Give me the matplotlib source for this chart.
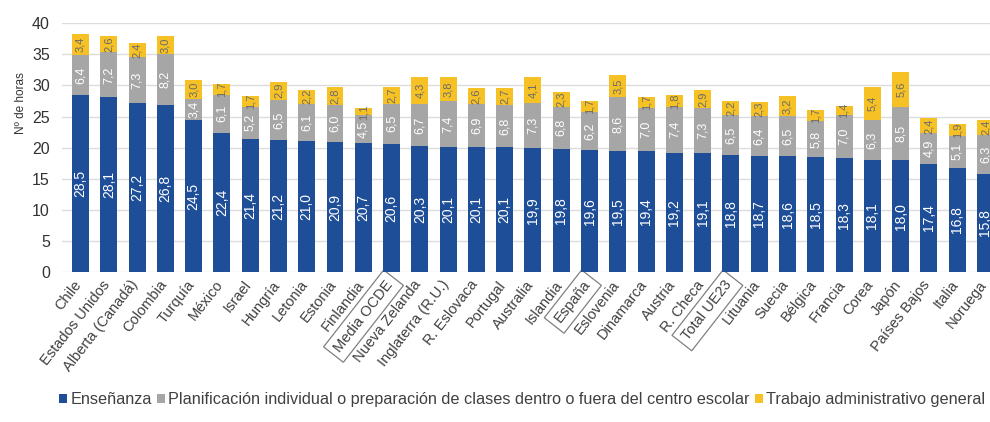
import matplotlib
matplotlib.use("Agg")
import matplotlib.pyplot as plt
import matplotlib.transforms as mtransforms
import numpy as np

plt.rcParams["font.family"] = ["Liberation Sans", "DejaVu Sans"]

paises = ["Chile", "Estados Unidos", "Alberta (Canadá)", "Colombia", "Turquía",
          "México", "Israel", "Hungría", "Letonia", "Estonia", "Finlandia",
          "Media OCDE", "Nueva Zelanda", "Inglaterra (R.U.)", "R. Eslovaca",
          "Portugal", "Australia", "Islandia", "España", "Eslovenia",
          "Dinamarca", "Austria", "R. Checa", "Total UE23", "Lituania",
          "Suecia", "Bélgica", "Francia", "Corea", "Japón", "Países Bajos",
          "Italia", "Noruega"]
ensenanza = [28.5, 28.1, 27.2, 26.8, 24.5, 22.4, 21.4, 21.2, 21.0, 20.9, 20.7,
             20.6, 20.3, 20.1, 20.1, 20.1, 19.9, 19.8, 19.6, 19.5, 19.4, 19.2,
             19.1, 18.8, 18.7, 18.6, 18.5, 18.3, 18.1, 18.0, 17.4, 16.8, 15.8]
planificacion = [6.4, 7.2, 7.3, 8.2, 3.4, 6.1, 5.2, 6.5, 6.1, 6.0, 4.5,
                 6.5, 6.7, 7.4, 6.9, 6.8, 7.3, 6.8, 6.2, 8.6, 7.0, 7.4,
                 7.3, 6.5, 6.4, 6.5, 5.8, 7.0, 6.3, 8.5, 4.9, 5.1, 6.3]
administrativo = [3.4, 2.6, 2.4, 3.0, 3.0, 1.7, 1.7, 2.9, 2.2, 2.8, 1.1,
                  2.7, 4.3, 3.8, 2.6, 2.7, 4.1, 2.3, 1.7, 3.5, 1.7, 1.8,
                  2.9, 2.2, 2.3, 3.2, 1.7, 1.4, 5.4, 5.6, 2.4, 1.9, 2.4]
destacados = ["Media OCDE", "España", "Total UE23"]

c_azul = "#1F4E99"
c_gris = "#A6A6A6"
c_amar = "#F5C125"

fig = plt.figure(figsize=(9.9, 4.22), dpi=100)
ax = fig.add_axes([0.063, 0.355, 0.937, 0.59])

x = np.arange(len(paises))
ens = np.array(ensenanza)
pla = np.array(planificacion)
adm = np.array(administrativo)
w = 0.6

b1 = ax.bar(x, ens, w, color=c_azul, label="Enseñanza", zorder=3)
b2 = ax.bar(x, pla, w, bottom=ens, color=c_gris,
            label="Planificación individual o preparación de clases dentro o fuera del centro escolar", zorder=3)
b3 = ax.bar(x, adm, w, bottom=ens + pla, color=c_amar,
            label="Trabajo administrativo general", zorder=3)

def fmt(v):
    return f"{v:.1f}".replace(".", ",")

# etiquetas de valor dentro de cada tramo
for i in x:
    ax.text(i, ens[i] / 2, fmt(ens[i]), rotation=90, ha="center", va="center",
            color="white", fontsize=10, zorder=4)
    ax.text(i, ens[i] + pla[i] / 2, fmt(pla[i]), rotation=90, ha="center", va="center",
            color="white", fontsize=9, zorder=4)
    ax.text(i, ens[i] + pla[i] + adm[i] / 2, fmt(adm[i]), rotation=90, ha="center",
            va="center", color="#6b6b6b", fontsize=8, zorder=4)

ax.set_ylim(0, 40)
ax.set_xlim(-0.64, 32.16)
ax.set_yticks(range(0, 41, 5))
ax.tick_params(axis="y", length=0, labelsize=11.5, colors="#333333", pad=9)
ax.tick_params(axis="x", length=0, pad=4)
ax.yaxis.grid(True, color="#DCDCDC", linewidth=1, zorder=0)
for s in ax.spines.values():
    s.set_visible(False)
ax.set_ylabel("Nº de horas", fontsize=8.5, color="#333333")
ax.yaxis.set_label_coords(-0.038, 0.68)

ax.set_xticks(x)
ax.set_xticklabels(paises, rotation=52, ha="right", rotation_mode="anchor",
                   fontsize=10.5, color="#404040")
# desplazar un poco las etiquetas a la izquierda
desplaza = mtransforms.ScaledTranslation(-5 / 72, 0, fig.dpi_scale_trans)
for lbl in ax.get_xticklabels():
    lbl.set_transform(lbl.get_transform() + desplaza)
    if lbl.get_text() in destacados:
        lbl.set_bbox(dict(facecolor="none", edgecolor="#808080", linewidth=0.9, pad=4))

fig.legend(handles=[b1, b2, b3], loc="lower left", bbox_to_anchor=(0.045, 0.0),
           ncol=3, frameon=False, fontsize=11.7, handlelength=0.5, handleheight=0.5,
           handletextpad=0.2, columnspacing=0.3, labelcolor="#404040")

fig.savefig("out.png", dpi=100, facecolor="white")
